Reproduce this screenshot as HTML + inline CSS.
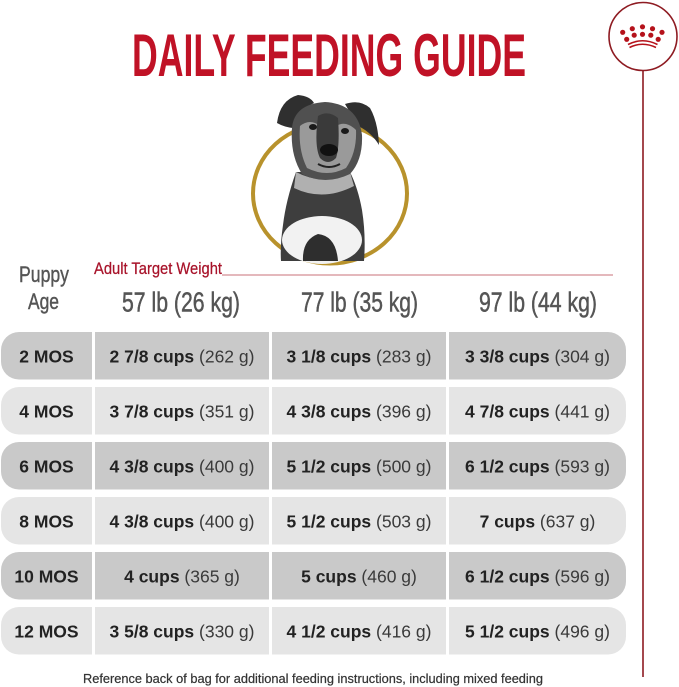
<!DOCTYPE html>
<html><head><meta charset="utf-8"><style>
html,body{margin:0;padding:0;background:#fff;}
svg{display:block;}
text{font-family:"Liberation Sans",sans-serif;}
</style></head><body>
<svg width="679" height="687" viewBox="0 0 679 687" xmlns="http://www.w3.org/2000/svg">
<rect width="679" height="687" fill="#fff"/>
<!-- logo -->
<circle cx="643" cy="36.5" r="34" fill="none" stroke="#8e1b22" stroke-width="1.6"/>
<line x1="643" y1="70.5" x2="643" y2="677" stroke="#8e1b22" stroke-width="1.6"/>
<g fill="#b5121b">
<circle cx="622.7" cy="32.3" r="2.6"/><circle cx="632.3" cy="28.7" r="2.6"/><circle cx="642.5" cy="26.8" r="2.6"/><circle cx="652.5" cy="28.7" r="2.6"/><circle cx="662" cy="32.3" r="2.6"/>
<circle cx="626.7" cy="39.3" r="2.6"/><circle cx="634.2" cy="35.2" r="2.6"/><circle cx="642.5" cy="34.3" r="2.6"/><circle cx="650.8" cy="35.2" r="2.6"/><circle cx="658.2" cy="39.3" r="2.6"/>
</g>
<path d="M628,44.5 Q642.5,37 657.5,44.5" fill="none" stroke="#b5121b" stroke-width="1.6"/>
<path d="M629.5,47.5 Q642.5,41 656,47.5" fill="none" stroke="#b5121b" stroke-width="1.6"/>

<!-- title -->
<text x="132" y="76" textLength="394" lengthAdjust="spacingAndGlyphs" font-size="60" font-weight="bold" fill="#c01226">DAILY FEEDING GUIDE</text>

<!-- ring + dog -->
<ellipse cx="330" cy="193.5" rx="77" ry="70" fill="none" stroke="#b8922c" stroke-width="4"/>
<g>
<path d="M296,172 Q286,200 283,225 Q280,245 281,261 L364,261 Q366,235 362,210 Q358,188 350,172 Z" fill="#3e3e3e"/>
<ellipse cx="322" cy="240" rx="40" ry="24" fill="#f2f2f2"/>
<path d="M303,261 Q302,240 318,234 Q336,236 338,261 Z" fill="#2e2e2e"/>
<path d="M296,172 Q322,186 350,172 L354,186 Q323,202 294,188 Z" fill="#b0b0b0"/>
<path d="M277,123 Q280,100 298,95 Q310,96 314,103 Q300,110 293,128 Q284,127 277,123 Z" fill="#2f2f2f"/>
<path d="M345,104 Q360,99 370,108 Q378,122 379,145 Q371,132 358,126 Z" fill="#2f2f2f"/>
<path d="M292,128 Q294,104 325,102 Q358,104 362,135 Q363,160 350,174 Q325,186 302,174 Q290,155 292,128 Z" fill="#505050"/>
<path d="M300,126 Q310,118 320,126 Q328,114 336,126 Q346,120 356,130 Q357,152 346,168 Q327,178 307,168 Q298,150 300,126 Z" fill="#9a9a9a"/>
<path d="M318,116 Q328,110 338,118 Q340,146 336,158 Q328,166 320,158 Q314,146 318,116 Z" fill="#3a3a3a"/>
<ellipse cx="329" cy="150" rx="9" ry="6" fill="#111"/>
<path d="M318,164 Q329,170 340,164" fill="none" stroke="#222" stroke-width="2"/>
<ellipse cx="313" cy="127" rx="4" ry="3" fill="#1a1a1a"/>
<ellipse cx="345" cy="131" rx="4" ry="3" fill="#1a1a1a"/>
</g>

<!-- header -->
<text x="19" y="282" textLength="50" lengthAdjust="spacingAndGlyphs" font-size="22" fill="#555" stroke="#555" stroke-width="0.4">Puppy</text>
<text x="28" y="309" textLength="31" lengthAdjust="spacingAndGlyphs" font-size="22" fill="#555" stroke="#555" stroke-width="0.4">Age</text>
<text x="94" y="274" textLength="128" lengthAdjust="spacingAndGlyphs" font-size="17" fill="#a8132a" stroke="#a8132a" stroke-width="0.25">Adult Target Weight</text>
<line x1="222" y1="275" x2="613" y2="275" stroke="#c9707a" stroke-width="1"/>
<g font-size="27.5" fill="#555" stroke="#555" stroke-width="0.5">
<text x="122" y="311.5" textLength="118" lengthAdjust="spacingAndGlyphs">57 lb (26 kg)</text>
<text x="301" y="311.5" textLength="117" lengthAdjust="spacingAndGlyphs">77 lb (35 kg)</text>
<text x="479" y="311.5" textLength="118" lengthAdjust="spacingAndGlyphs">97 lb (44 kg)</text>
</g>

<!-- rows -->
<g>
<path d="M92,332 H19 A18,18 0 0 0 1,350 V361.5 A18,18 0 0 0 19,379.5 H92 Z" fill="#c9c9c9"/>
<rect x="95" y="332" width="174" height="47.5" fill="#c9c9c9"/>
<rect x="272" y="332" width="174" height="47.5" fill="#c9c9c9"/>
<path d="M449,332 H608 A18,18 0 0 1 626,350 V361.5 A18,18 0 0 1 608,379.5 H449 Z" fill="#c9c9c9"/>

<path d="M92,387 H19 A18,18 0 0 0 1,405 V416.5 A18,18 0 0 0 19,434.5 H92 Z" fill="#e5e5e5"/>
<rect x="95" y="387" width="174" height="47.5" fill="#e5e5e5"/>
<rect x="272" y="387" width="174" height="47.5" fill="#e5e5e5"/>
<path d="M449,387 H608 A18,18 0 0 1 626,405 V416.5 A18,18 0 0 1 608,434.5 H449 Z" fill="#e5e5e5"/>

<path d="M92,442 H19 A18,18 0 0 0 1,460 V471.5 A18,18 0 0 0 19,489.5 H92 Z" fill="#c9c9c9"/>
<rect x="95" y="442" width="174" height="47.5" fill="#c9c9c9"/>
<rect x="272" y="442" width="174" height="47.5" fill="#c9c9c9"/>
<path d="M449,442 H608 A18,18 0 0 1 626,460 V471.5 A18,18 0 0 1 608,489.5 H449 Z" fill="#c9c9c9"/>

<path d="M92,497 H19 A18,18 0 0 0 1,515 V526.5 A18,18 0 0 0 19,544.5 H92 Z" fill="#e5e5e5"/>
<rect x="95" y="497" width="174" height="47.5" fill="#e5e5e5"/>
<rect x="272" y="497" width="174" height="47.5" fill="#e5e5e5"/>
<path d="M449,497 H608 A18,18 0 0 1 626,515 V526.5 A18,18 0 0 1 608,544.5 H449 Z" fill="#e5e5e5"/>

<path d="M92,552 H19 A18,18 0 0 0 1,570 V581.5 A18,18 0 0 0 19,599.5 H92 Z" fill="#c9c9c9"/>
<rect x="95" y="552" width="174" height="47.5" fill="#c9c9c9"/>
<rect x="272" y="552" width="174" height="47.5" fill="#c9c9c9"/>
<path d="M449,552 H608 A18,18 0 0 1 626,570 V581.5 A18,18 0 0 1 608,599.5 H449 Z" fill="#c9c9c9"/>

<path d="M92,607 H19 A18,18 0 0 0 1,625 V636.5 A18,18 0 0 0 19,654.5 H92 Z" fill="#e5e5e5"/>
<rect x="95" y="607" width="174" height="47.5" fill="#e5e5e5"/>
<rect x="272" y="607" width="174" height="47.5" fill="#e5e5e5"/>
<path d="M449,607 H608 A18,18 0 0 1 626,625 V636.5 A18,18 0 0 1 608,654.5 H449 Z" fill="#e5e5e5"/>
</g>

<g font-size="17.5" text-anchor="middle">
<g font-weight="bold" fill="#222">
<text x="46.5" y="362.5">2 MOS</text>
<text x="46.5" y="417.5">4 MOS</text>
<text x="46.5" y="472.5">6 MOS</text>
<text x="46.5" y="527.5">8 MOS</text>
<text x="46.5" y="582.5">10 MOS</text>
<text x="46.5" y="637.5">12 MOS</text>
</g>
<g fill="#222">
<text x="182" y="362.5"><tspan font-weight="bold">2 7/8 cups</tspan><tspan fill="#3a3a3a"> (262 g)</tspan></text>
<text x="359" y="362.5"><tspan font-weight="bold">3 1/8 cups</tspan><tspan fill="#3a3a3a"> (283 g)</tspan></text>
<text x="537.5" y="362.5"><tspan font-weight="bold">3 3/8 cups</tspan><tspan fill="#3a3a3a"> (304 g)</tspan></text>

<text x="182" y="417.5"><tspan font-weight="bold">3 7/8 cups</tspan><tspan fill="#3a3a3a"> (351 g)</tspan></text>
<text x="359" y="417.5"><tspan font-weight="bold">4 3/8 cups</tspan><tspan fill="#3a3a3a"> (396 g)</tspan></text>
<text x="537.5" y="417.5"><tspan font-weight="bold">4 7/8 cups</tspan><tspan fill="#3a3a3a"> (441 g)</tspan></text>

<text x="182" y="472.5"><tspan font-weight="bold">4 3/8 cups</tspan><tspan fill="#3a3a3a"> (400 g)</tspan></text>
<text x="359" y="472.5"><tspan font-weight="bold">5 1/2 cups</tspan><tspan fill="#3a3a3a"> (500 g)</tspan></text>
<text x="537.5" y="472.5"><tspan font-weight="bold">6 1/2 cups</tspan><tspan fill="#3a3a3a"> (593 g)</tspan></text>

<text x="182" y="527.5"><tspan font-weight="bold">4 3/8 cups</tspan><tspan fill="#3a3a3a"> (400 g)</tspan></text>
<text x="359" y="527.5"><tspan font-weight="bold">5 1/2 cups</tspan><tspan fill="#3a3a3a"> (503 g)</tspan></text>
<text x="537.5" y="527.5"><tspan font-weight="bold">7 cups</tspan><tspan fill="#3a3a3a"> (637 g)</tspan></text>

<text x="182" y="582.5"><tspan font-weight="bold">4 cups</tspan><tspan fill="#3a3a3a"> (365 g)</tspan></text>
<text x="359" y="582.5"><tspan font-weight="bold">5 cups</tspan><tspan fill="#3a3a3a"> (460 g)</tspan></text>
<text x="537.5" y="582.5"><tspan font-weight="bold">6 1/2 cups</tspan><tspan fill="#3a3a3a"> (596 g)</tspan></text>

<text x="182" y="637.5"><tspan font-weight="bold">3 5/8 cups</tspan><tspan fill="#3a3a3a"> (330 g)</tspan></text>
<text x="359" y="637.5"><tspan font-weight="bold">4 1/2 cups</tspan><tspan fill="#3a3a3a"> (416 g)</tspan></text>
<text x="537.5" y="637.5"><tspan font-weight="bold">5 1/2 cups</tspan><tspan fill="#3a3a3a"> (496 g)</tspan></text>
</g>
</g>

<text x="83" y="683" textLength="460" lengthAdjust="spacingAndGlyphs" font-size="12.5" fill="#333" stroke="#333" stroke-width="0.2">Reference back of bag for additional feeding instructions, including mixed feeding</text>
</svg>
</body></html>
